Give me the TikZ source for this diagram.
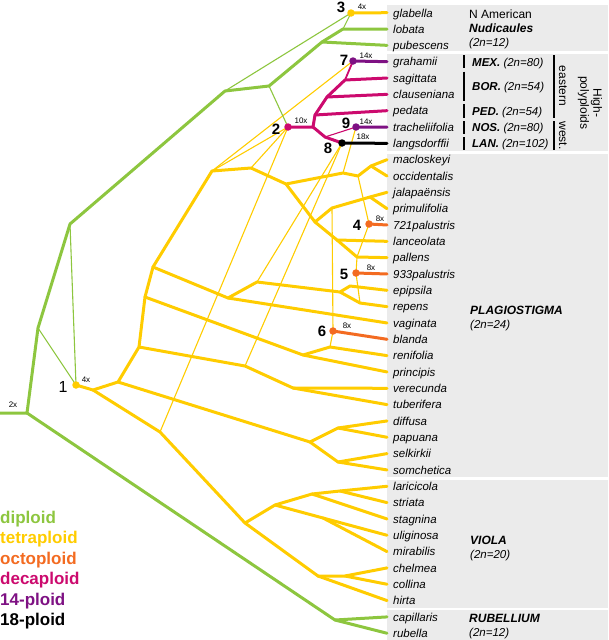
\documentclass[tikz,border=0pt]{standalone}
\usepackage{fontspec}
\setmainfont{Liberation Sans}
\definecolor{dip}{HTML}{8DC63F}
\definecolor{tet}{HTML}{FFCC00}
\definecolor{oct}{HTML}{F36B21}
\definecolor{dec}{HTML}{CC0A6E}
\definecolor{fourteen}{HTML}{7E1183}
\definecolor{boxgray}{HTML}{EBEBEB}
\begin{document}
\begin{tikzpicture}[x=1pt,y=-1pt,line join=round,line cap=round,
  thk/.style={line width=3pt},
  thn/.style={line width=1.1pt},
  mid/.style={line width=1.8pt},
  taxon/.style={anchor=base west,inner sep=0pt,font=\fontsize{11.5}{12}\selectfont\itshape},
  grp/.style={anchor=base west,inner sep=0pt,font=\fontsize{11.5}{12}\selectfont\itshape},
  dot/.style={circle,inner sep=0pt,minimum size=7.5pt},
  num/.style={inner sep=0pt,font=\fontsize{15}{15}\selectfont\bfseries},
  plo/.style={inner sep=0pt,font=\fontsize{8}{8}\selectfont},
  leg/.style={anchor=base west,inner sep=0pt,font=\fontsize{17}{17}\selectfont\bfseries},
  bar/.style={line width=2.4pt,line cap=butt},
  rot/.style={rotate=-90,inner sep=0pt,font=\fontsize{12}{13}\selectfont}]
\useasboundingbox (0,0) rectangle (608,640);
% grey boxes
\fill[boxgray] (387,5) rectangle (608,51);
\fill[boxgray] (387,54) rectangle (608,151);
\fill[boxgray] (387,153.5) rectangle (608,477);
\fill[boxgray] (387,479.5) rectangle (608,607.5);
\fill[boxgray] (387,610) rectangle (608,640);
% taxa
\foreach \nm [count=\i from 0] in {glabella,lobata,pubescens,grahamii,sagittata,clauseniana,pedata,tracheliifolia,langsdorffii,macloskeyi,occidentalis,jalapaënsis,primulifolia,721palustris,lanceolata,pallens,933palustris,epipsila,repens,vaginata,blanda,renifolia,principis,verecunda,tuberifera,diffusa,papuana,selkirkii,somchetica,laricicola,striata,stagnina,uliginosa,mirabilis,chelmea,collina,hirta,capillaris,rubella}{
  \coordinate (t\i) at (387,{12.7+16.33*\i});
  \node[taxon] (n\i) at (393,{17+16.33*\i}) {\nm};
}
% internal points
\coordinate (L) at (0,413);
\coordinate (R0) at (27,413);
\coordinate (A) at (38,328);
\coordinate (B) at (70,224);
\coordinate (C) at (225,91);
\coordinate (D) at (269,86);
\coordinate (E) at (322,42);
\coordinate (F) at (343,29);
\coordinate (G1) at (335,620);
\coordinate (d1) at (76,385);
\coordinate (d2) at (288,127);
\coordinate (d3) at (351,13);
\coordinate (d4) at (369,224);
\coordinate (d5) at (356,273);
\coordinate (d6) at (333,331);
\coordinate (d7) at (353,61);
\coordinate (d8) at (342,143);
\coordinate (d9) at (356,127);
\coordinate (P1) at (93,390);
\coordinate (P2) at (118,382);
\coordinate (P3) at (160,432);
\coordinate (P4) at (139,347);
\coordinate (P5) at (145,297);
\coordinate (P6) at (153,267);
\coordinate (P7) at (212,171);
\coordinate (P8) at (251,168);
\coordinate (K1) at (286,184);
\coordinate (Ma) at (343,173);
\coordinate (Mb) at (358,176);
\coordinate (M) at (371,166);
\coordinate (K2) at (315,222);
\coordinate (J1) at (332,208);
\coordinate (J2) at (370,197);
\coordinate (L0) at (337,240);
\coordinate (L1) at (357,257);
\coordinate (N1) at (228,298);
\coordinate (N2) at (257,282);
\coordinate (E1) at (340,292);
\coordinate (E1a) at (350,286);
\coordinate (E2) at (360,303);
\coordinate (R1) at (303,355);
\coordinate (R2) at (330,347);
\coordinate (T1) at (245,366);
\coordinate (V1) at (293,388);
\coordinate (Q1) at (310,442);
\coordinate (Q2) at (338,428);
\coordinate (Q3) at (338,462);
\coordinate (W1) at (245,523);
\coordinate (W2) at (275,505);
\coordinate (W3) at (312,494);
\coordinate (X1) at (340,491);
\coordinate (U1) at (323,518);
\coordinate (W4) at (318,576);
\coordinate (X2) at (345,576);
\coordinate (G) at (313,127);
\coordinate (G2) at (315,115);
\coordinate (G3) at (327,97);
\coordinate (G4) at (345,80);
\coordinate (G5) at (325,137);
% thin yellow reticulations
\draw[thn,tet] (d2) -- (P7);
\draw[thn,tet] (d2) -- (P8);
\draw[thn,tet] (d2) -- (P3);
\draw[thn,tet] (P7) -- (d7);
\draw[thn,tet] (d9) -- (Ma);
\draw[thn,tet] (d8) -- (N2);
\draw[thn,tet] (d8) -- (T1);
\draw[thn,tet] (J1) -- (d6) -- (R2);
\draw[thn,tet] (Mb) -- (d4) -- (L1);
\draw[thn,tet] (L1) -- (d5) -- (E2);
% green
\draw[thk,dip] (L) -- (R0) -- (A) -- (B) -- (C) -- (D) -- (E) -- (F) -- (t1);
\draw[thk,dip] (E) -- (t2);
\draw[thk,dip] (R0) -- (G1) -- (t37);
\draw[thk,dip] (G1) -- (t38);
\draw[thn,dip] (A) -- (d1) -- (B);
\draw[thn,dip] (C) -- (d3) -- (F);
\draw[thn,dip] (D) -- (d2);
% yellow thick
\draw[thk,tet] (d3) -- (t0);
\draw[thk,tet] (d1) -- (P1) -- (P2) -- (P4) -- (P5) -- (P6) -- (P7) -- (P8) -- (K1) -- (Ma) -- (Mb) -- (M) -- (t9);
\draw[thk,tet] (M) -- (t10);
\draw[thk,tet] (K1) -- (K2) -- (J1) -- (J2) -- (t11);
\draw[thk,tet] (J2) -- (t12);
\draw[thk,tet] (K2) -- (L0) -- (t14);
\draw[thk,tet] (L0) -- (L1) -- (t15);
\draw[thk,tet] (P6) -- (N1) -- (N2) -- (E1) -- (E1a) -- (t17);
\draw[thk,tet] (E1) -- (E2) -- (t18);
\draw[thk,tet] (N1) -- (t19);
\draw[thk,tet] (P5) -- (R1) -- (R2) -- (t21);
\draw[thk,tet] (R1) -- (t22);
\draw[thk,tet] (P4) -- (T1) -- (V1) -- (t23);
\draw[thk,tet] (V1) -- (t24);
\draw[thk,tet] (P2) -- (Q1) -- (Q2) -- (t25);
\draw[thk,tet] (Q2) -- (t26);
\draw[thk,tet] (Q1) -- (Q3) -- (t27);
\draw[thk,tet] (Q3) -- (t28);
\draw[thk,tet] (P1) -- (P3) -- (W1) -- (W2) -- (W3) -- (X1) -- (t29);
\draw[thk,tet] (X1) -- (t30);
\draw[thk,tet] (W3) -- (t31);
\draw[thk,tet] (W2) -- (U1) -- (t32);
\draw[thk,tet] (U1) -- (t33);
\draw[thk,tet] (W1) -- (W4) -- (X2) -- (t34);
\draw[thk,tet] (X2) -- (t35);
\draw[thk,tet] (W4) -- (t36);
% magenta
\draw[thk,dec] (d2) -- (G) -- (G2) -- (G3) -- (G4) -- (t4);
\draw[thk,dec] (G3) -- (t5);
\draw[thk,dec] (G2) -- (t6);
\draw[thk,dec] (G) -- (G5) -- (d8);
\draw[mid,dec] (G4) -- (d7);
\draw[thn,dec] (G5) -- (d9);
% high ploidy tips
\draw[thk,fourteen] (d7) -- (t3);
\draw[thk,fourteen] (d9) -- (t7);
\draw[thk,black] (d8) -- (t8);
\draw[thk,oct] (d4) -- (t13);
\draw[thk,oct] (d5) -- (t16);
\draw[thk,oct] (d6) -- (t20);
% dots
\node[dot,fill=tet] (dot1) at (d1) {};
\node[dot,fill=dec] (dot2) at (d2) {};
\node[dot,fill=tet] (dot3) at (d3) {};
\node[dot,fill=oct] (dot4) at (d4) {};
\node[dot,fill=oct] (dot5) at (d5) {};
\node[dot,fill=oct] (dot6) at (d6) {};
\node[dot,fill=fourteen] (dot7) at (d7) {};
\node[dot,fill=black] (dot8) at (d8) {};
\node[dot,fill=fourteen] (dot9) at (d9) {};
% numbers
\node[num,font=\fontsize{16}{16}\selectfont] (l1) at (63,387) {1};
\node[num] (l2) at (276,129) {2};
\node[num] (l3) at (341,7) {3};
\node[num] (l4) at (357,225) {4};
\node[num] (l5) at (344,274) {5};
\node[num] (l6) at (322,331) {6};
\node[num] (l7) at (344,60) {7};
\node[num] (l8) at (328,148) {8};
\node[num] (l9) at (346,123) {9};
% ploidy levels
\node[plo] (x0) at (13,405) {2x};
\node[plo] (x1) at (86,380) {4x};
\node[plo] (x2) at (301,121) {10x};
\node[plo] (x3) at (362,7) {4x};
\node[plo] (x4) at (380,219) {8x};
\node[plo] (x5) at (371,268) {8x};
\node[plo] (x6) at (347,326) {8x};
\node[plo] (x7) at (366,56) {14x};
\node[plo] (x8) at (363,137) {18x};
\node[plo] (x9) at (366,122) {14x};
% group labels
\node[grp,font=\fontsize{12}{12}\selectfont] (g1) at (469,18.5) {N American};
\node[grp,font=\fontsize{12}{12}\selectfont\bfseries\itshape] (g2) at (469,32.5) {Nudicaules};
\node[grp] (g3) at (469,46.5) {(2n=12)};
\node[grp] (h1) at (472,66) {\textbf{MEX.} (2n=80)};
\node[grp] (h2) at (472,90.5) {\textbf{BOR.} (2n=54)};
\node[grp] (h3) at (472,115) {\textbf{PED.} (2n=54)};
\node[grp] (h4) at (472,131.3) {\textbf{NOS.} (2n=80)};
\node[grp] (h5) at (472,147.6) {\textbf{LAN.} (2n=102)};
\draw[bar] (464,55) -- (464,68);
\draw[bar] (464,71.5) -- (464,101);
\draw[bar] (464,104) -- (464,117.5);
\draw[bar] (464,121) -- (464,134);
\draw[bar] (464,137) -- (464,150);
\draw[bar] (554,55) -- (554,117.5);
\draw[bar] (554,121) -- (554,150);
\node[rot] (r1) at (563,86) {eastern};
\node[rot] (r2) at (563,135.5) {west.};
\node[rot,align=center] (r3) at (590,103) {High-\\polyploids};
\node[grp,font=\fontsize{12}{12}\selectfont\bfseries\itshape] (g4) at (470,314) {PLAGIOSTIGMA};
\node[grp] (g5) at (470,328) {(2n=24)};
\node[grp,font=\fontsize{12}{12}\selectfont\bfseries\itshape] (g6) at (470,544) {VIOLA};
\node[grp] (g7) at (470,558) {(2n=20)};
\node[grp,font=\fontsize{12}{12}\selectfont\bfseries\itshape] (g8) at (469,622) {RUBELLIUM};
\node[grp] (g9) at (469,636) {(2n=12)};
% legend
\node[leg,text=dip] (k1) at (0,523) {diploid};
\node[leg,text=tet] (k2) at (0,543.5) {tetraploid};
\node[leg,text=oct] (k3) at (0,564) {octoploid};
\node[leg,text=dec] (k4) at (0,584.5) {decaploid};
\node[leg,text=fourteen] (k5) at (0,605) {14-ploid};
\node[leg,text=black] (k6) at (0,625.5) {18-ploid};
\end{tikzpicture}
\end{document}
